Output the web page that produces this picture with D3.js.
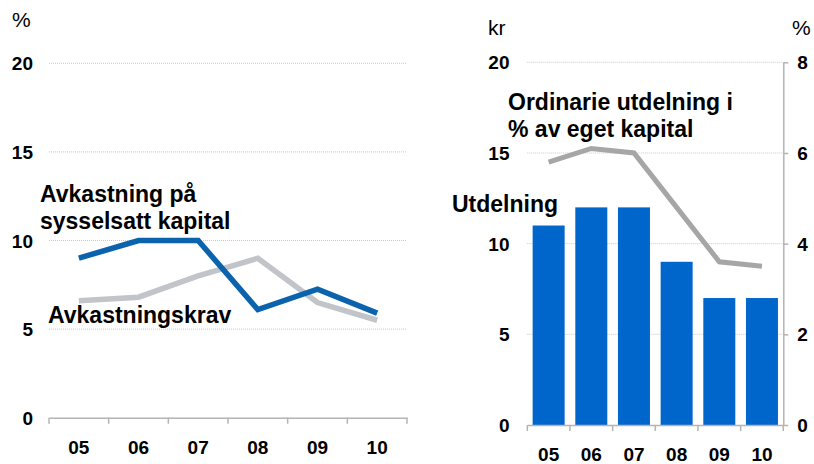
<!DOCTYPE html>
<html>
<head>
<meta charset="utf-8">
<script src="https://cdn.jsdelivr.net/npm/d3@7"></script>
<style>
  body { margin: 0; background: #fff; }
  svg { display: block; font-family: "Liberation Sans", Arial, sans-serif; }
  .tick text { font-weight: bold; font-size: 19px; fill: #000; }
  .lbl { font-weight: bold; font-size: 23px; fill: #000; }
  .unit { font-size: 21px; fill: #000; }
</style>
</head>
<body>
<svg width="814" height="464"></svg>
<script>
	'use strict';

	const years = ['05', '06', '07', '08', '09', '10'];
	const avkastning = [9.0, 10.0, 10.0, 6.1, 7.25, 5.9];
	const avkastningskrav = [6.6, 6.8, 8.0, 9.0, 6.5, 5.5];
	const utdelning = [11, 12, 12, 9, 7, 7];
	const utdelningPct = [5.8, 6.1, 6.0, 4.8, 3.6, 3.5];
	const leftTicks = [0, 5, 10, 15, 20];
	const rightTicks = [0, 2, 4, 6, 8];

	const svg = d3.select('svg');
	const gridColor = '#c8c8c8';
	const axisColor = '#b4b4b4';

	// ---- left panel ----
	const x1 = d3.scaleBand().domain(years).range([49, 407]);
	const y1 = d3.scaleLinear().domain([0, 20]).range([417.7, 63.3]);

	const left = svg.append('g');

	left.selectAll('line.grid')
		.data(leftTicks.filter(d => d > 0))
		.join('line')
			.attr('x1', 49).attr('x2', 407)
			.attr('y1', d => y1(d)).attr('y2', d => y1(d))
			.attr('stroke', gridColor)
			.attr('stroke-dasharray', '1,1');

	const yAx1 = left.append('g')
		.attr('transform', 'translate(33,0)')
		.call(d3.axisLeft(y1).tickValues(leftTicks).tickSize(0).tickPadding(0));
	yAx1.select('.domain').remove();
	yAx1.selectAll('text').attr('dy', '0.35em');

	const xAx1 = left.append('g')
		.attr('transform', `translate(0,${y1(0)})`)
		.call(d3.axisBottom(x1).tickSize(0).tickPadding(23));
	xAx1.select('.domain').attr('stroke', axisColor).attr('stroke-width', 1.5);
	xAx1.selectAll('line.sep')
		.data(years.concat(['end']))
		.join('line')
			.attr('class', 'sep')
			.attr('x1', (d, i) => 49 + i * x1.step())
			.attr('x2', (d, i) => 49 + i * x1.step())
			.attr('y1', 0).attr('y2', 6)
			.attr('stroke', axisColor).attr('stroke-width', 1.5);

	const line1 = d3.line()
		.x((d, i) => x1(years[i]) + x1.bandwidth() / 2)
		.y(d => y1(d));

	left.append('path')
		.attr('d', line1(avkastningskrav))
		.attr('fill', 'none')
		.attr('stroke', '#c1c4c8')
		.attr('stroke-width', 5.5);

	left.append('path')
		.attr('d', line1(avkastning))
		.attr('fill', 'none')
		.attr('stroke', '#0b63ad')
		.attr('stroke-width', 5.5);

	left.append('text').attr('class', 'unit').attr('x', 12).attr('y', 27).text('%');
	left.append('text').attr('class', 'lbl').attr('x', 40).attr('y', 202).text('Avkastning på');
	left.append('text').attr('class', 'lbl').attr('x', 40).attr('y', 229).text('sysselsatt kapital');
	left.append('text').attr('class', 'lbl').attr('x', 48).attr('y', 323).text('Avkastningskrav');

	// ---- right panel ----
	const x2 = d3.scaleBand().domain(years).range([527.3, 783.3]).paddingInner(0.25).paddingOuter(0.125);
	const y2 = d3.scaleLinear().domain([0, 20]).range([425, 62.3]);
	const y2r = d3.scaleLinear().domain([0, 8]).range([425, 62.3]);

	const right = svg.append('g');

	right.selectAll('line.grid')
		.data(leftTicks.filter(d => d > 0))
		.join('line')
			.attr('x1', 527.3).attr('x2', 783.3)
			.attr('y1', d => y2(d)).attr('y2', d => y2(d))
			.attr('stroke', gridColor)
			.attr('stroke-dasharray', '1,1');

	right.selectAll('rect')
		.data(utdelning)
		.join('rect')
			.attr('x', (d, i) => x2(years[i]))
			.attr('y', d => y2(d))
			.attr('width', x2.bandwidth())
			.attr('height', d => y2(0) - y2(d))
			.attr('fill', '#0066cc');

	const yAx2 = right.append('g')
		.attr('transform', 'translate(509.5,0)')
		.call(d3.axisLeft(y2).tickValues(leftTicks).tickSize(0).tickPadding(0));
	yAx2.select('.domain').remove();
	yAx2.selectAll('text').attr('dy', '0.35em');

	const yAx2r = right.append('g')
		.attr('transform', 'translate(783.3,0)')
		.call(d3.axisRight(y2r).tickValues(rightTicks).tickSize(5).tickPadding(9).tickSizeOuter(0));
	yAx2r.select('.domain').attr('stroke', axisColor).attr('stroke-width', 1.5);
	yAx2r.selectAll('line').attr('stroke', axisColor).attr('stroke-width', 1.5);
	yAx2r.selectAll('text').attr('dy', '0.35em');

	const step2 = (783.3 - 527.3) / years.length;
	const xAx2 = right.append('g')
		.attr('transform', `translate(0,${y2(0)})`)
		.call(d3.axisBottom(x2).tickSize(0).tickPadding(23).tickSizeOuter(0));
	xAx2.select('.domain').attr('stroke', axisColor).attr('stroke-width', 1.5);
	xAx2.selectAll('line.sep')
		.data(years.concat(['end']))
		.join('line')
			.attr('class', 'sep')
			.attr('x1', (d, i) => 527.3 + i * step2)
			.attr('x2', (d, i) => 527.3 + i * step2)
			.attr('y1', 0).attr('y2', 6)
			.attr('stroke', axisColor).attr('stroke-width', 1.5);

	const line2 = d3.line()
		.x((d, i) => x2(years[i]) + x2.bandwidth() / 2)
		.y(d => y2r(d));

	right.append('path')
		.attr('d', line2(utdelningPct))
		.attr('fill', 'none')
		.attr('stroke', '#a6a6a6')
		.attr('stroke-width', 5);

	right.append('text').attr('class', 'unit').attr('x', 488).attr('y', 35).text('kr');
	right.append('text').attr('class', 'unit').attr('x', 792).attr('y', 35).text('%');
	right.append('text').attr('class', 'lbl').attr('x', 508).attr('y', 110).text('Ordinarie utdelning i');
	right.append('text').attr('class', 'lbl').attr('x', 508).attr('y', 137).text('% av eget kapital');
	right.append('text').attr('class', 'lbl').attr('x', 452).attr('y', 212).text('Utdelning');
</script>
</body>
</html>
